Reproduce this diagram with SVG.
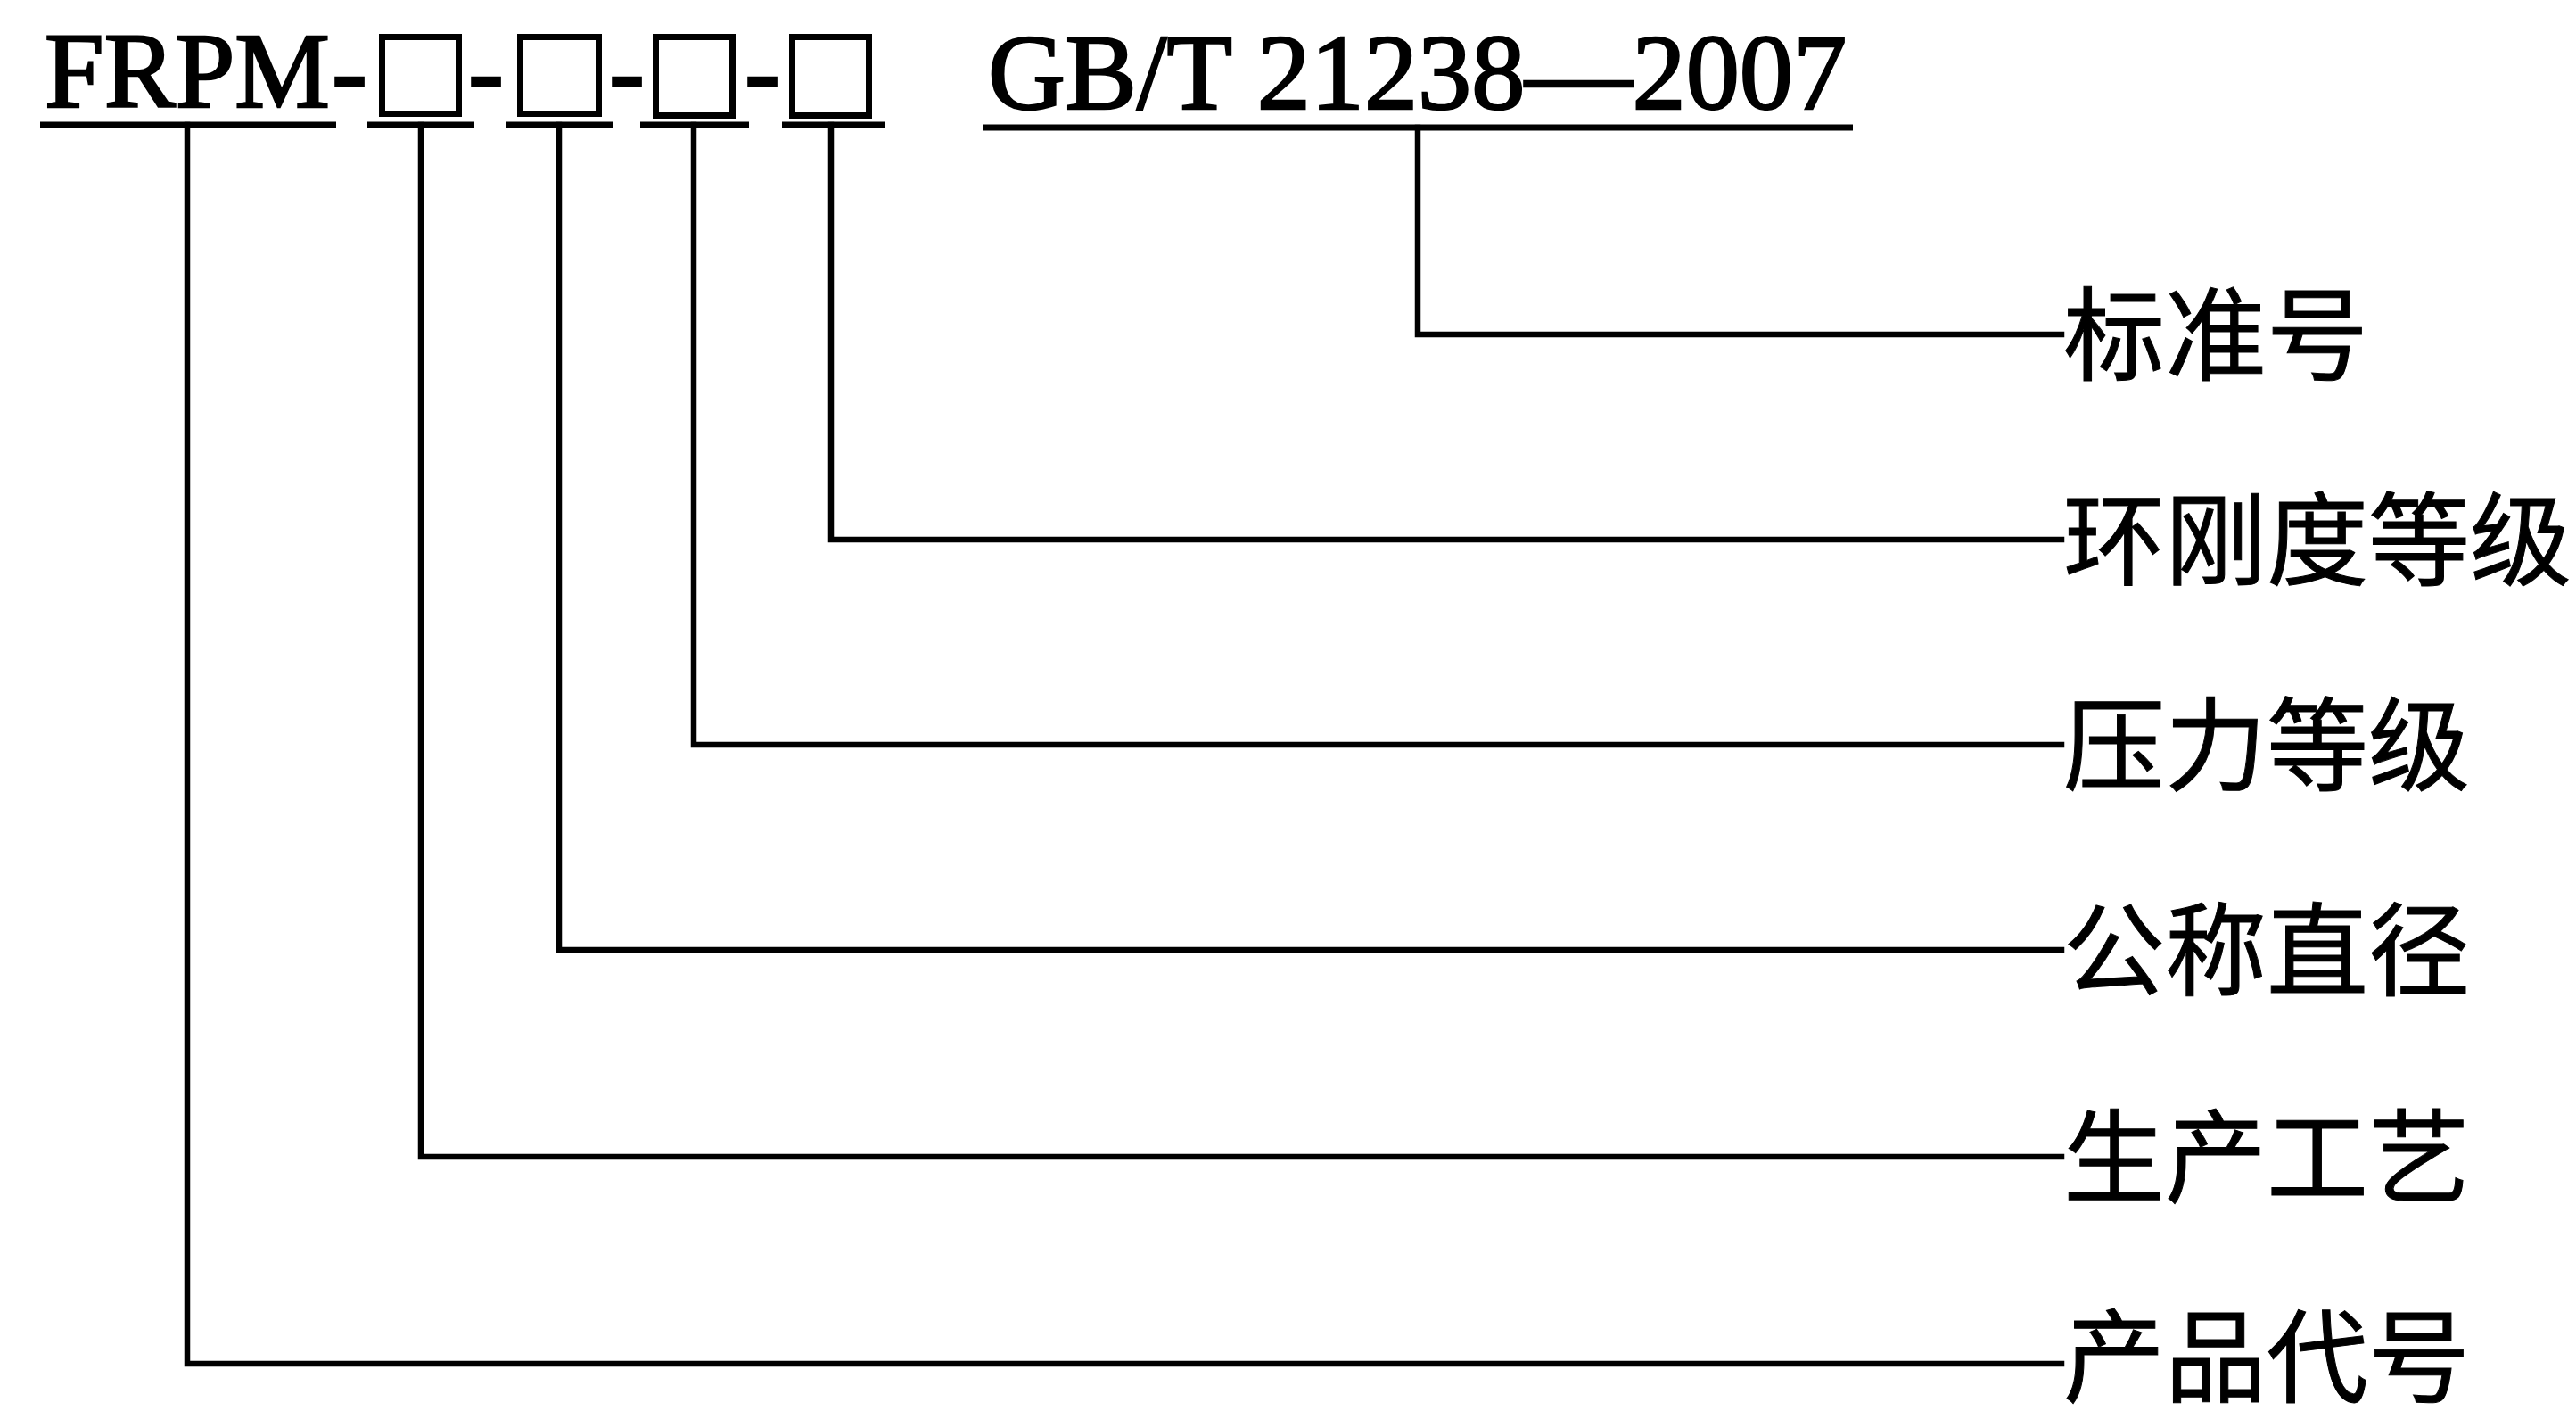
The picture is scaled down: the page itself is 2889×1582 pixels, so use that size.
<svg xmlns="http://www.w3.org/2000/svg" width="2889" height="1582" viewBox="0 0 2889 1582">
<style>
.bg{fill:#fff}
.lat{font-family:"Liberation Serif","Times New Roman",serif;font-size:120px;fill:#000;stroke:#000;stroke-width:2.5}
.cjk{font-family:"Noto Sans CJK SC","Noto Sans CJK JP",sans-serif;font-size:114px;fill:#000;stroke:#000;stroke-width:1}
.box{fill:none;stroke:#000;stroke-width:7}
.ul{stroke:#000;stroke-width:7;fill:none}
.con{stroke:#000;stroke-width:6.5;fill:none;stroke-linejoin:miter;stroke-linecap:square}
</style>
<rect class="bg" x="0" y="0" width="2889" height="1582"/>
<g id="code">
  <g id="code-product">
    <text class="lat" x="50" y="120" textLength="320" lengthAdjust="spacingAndGlyphs">FRPM</text>
    <line class="ul" x1="45" y1="140" x2="377" y2="140"/>
  </g>
  <text class="lat" x="372" y="120">-</text>
  <g id="code-process">
    <rect class="box" x="428.5" y="41.5" width="86" height="86"/>
    <line class="ul" x1="412" y1="140" x2="532" y2="140"/>
  </g>
  <text class="lat" x="525" y="120">-</text>
  <g id="code-diameter">
    <rect class="box" x="583.5" y="41.5" width="88" height="86"/>
    <line class="ul" x1="567" y1="140" x2="688" y2="140"/>
  </g>
  <text class="lat" x="683" y="120">-</text>
  <g id="code-pressure">
    <rect class="box" x="735.5" y="41.5" width="86" height="88"/>
    <line class="ul" x1="718" y1="140" x2="840" y2="140"/>
  </g>
  <text class="lat" x="835" y="120">-</text>
  <g id="code-stiffness">
    <rect class="box" x="888.5" y="41.5" width="86" height="88"/>
    <line class="ul" x1="877" y1="140" x2="992" y2="140"/>
  </g>
  <g id="code-standard">
    <text class="lat" x="1108" y="122" textLength="963" lengthAdjust="spacingAndGlyphs">GB/T 21238—2007</text>
    <line class="ul" x1="1103" y1="143" x2="2078" y2="143"/>
  </g>
</g>
<g id="connectors">
  <polyline class="con" points="1590,143 1590,375 2312,375"/>
  <polyline class="con" points="932,140 932,605 2312,605"/>
  <polyline class="con" points="778,140 778,835 2312,835"/>
  <polyline class="con" points="627,140 627,1065 2312,1065"/>
  <polyline class="con" points="472,140 472,1297 2312,1297"/>
  <polyline class="con" points="210,140 210,1529 2312,1529"/>
</g>
<g id="label-standard"><text class="cjk" x="2314" y="417">标准号</text></g>
<g id="label-stiffness"><text class="cjk" x="2314" y="647">环刚度等级</text></g>
<g id="label-pressure"><text class="cjk" x="2314" y="877">压力等级</text></g>
<g id="label-diameter"><text class="cjk" x="2314" y="1107">公称直径</text></g>
<g id="label-process"><text class="cjk" x="2314" y="1339">生产工艺</text></g>
<g id="label-product"><text class="cjk" x="2314" y="1563">产品代号</text></g>
</svg>
